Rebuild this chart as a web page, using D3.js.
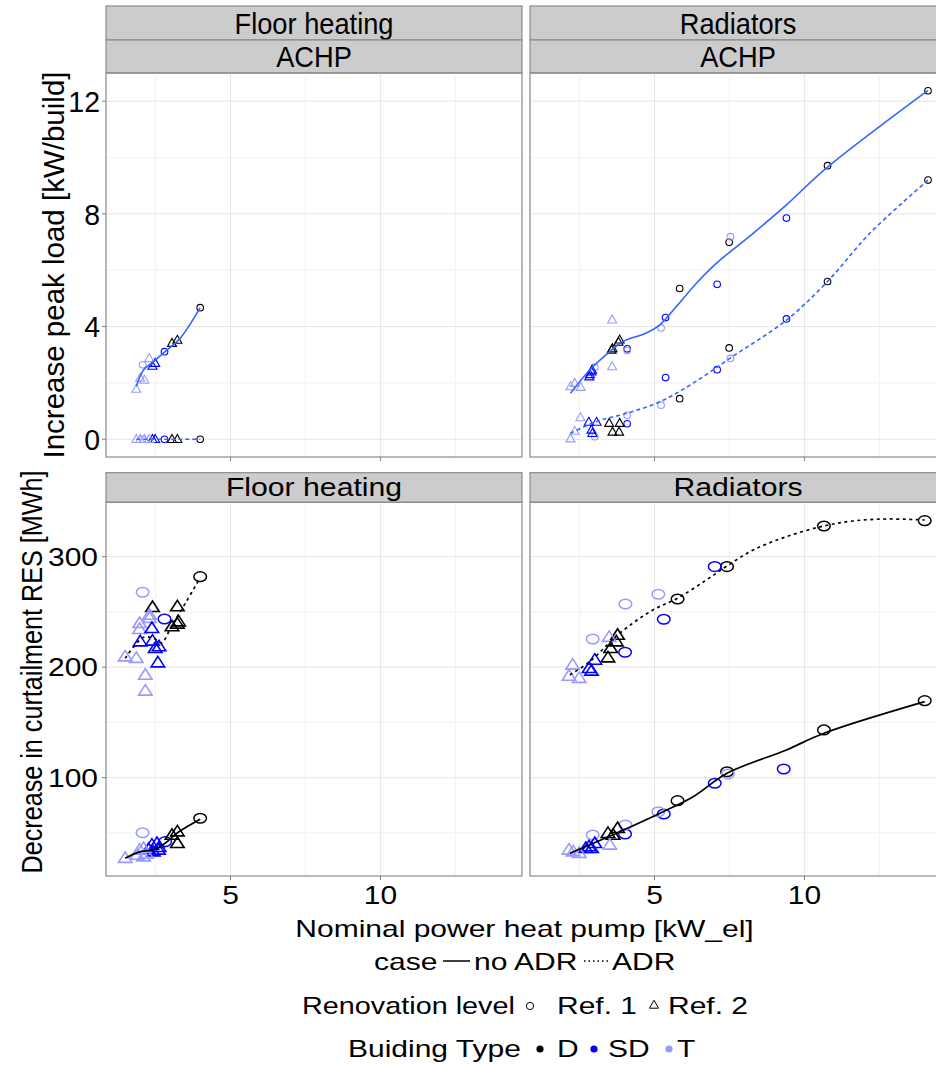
<!DOCTYPE html>
<html>
<head>
<meta charset="utf-8">
<script src="https://cdn.jsdelivr.net/npm/d3@7"></script>
<style>
  body { margin: 0; background: #fff; }
  svg { display: block; font-family: "Liberation Sans", Arial, Helvetica, sans-serif; }
</style>
</head>
<body>
<svg id="chart" width="936" height="1065"></svg>
<script>
// facet labels and axis ticks
const facets = ['Floor heating', 'Radiators'];
const pumpType = 'ACHP';
const xTicks = [5, 10];
const xMinor = [2.5, 7.5, 12.5];
const peakTicks = [0, 4, 8, 12];
const peakMinor = [2, 6, 10];
const curtTicks = [100, 200, 300];
const curtMinor = [50, 150, 250];

const typeColor = { D: '#000000', SD: '#0000FF', T: '#9999FF' };

// points: [nominal power, value, building type, renovation level (1 = circle, 2 = triangle)]
const peakFloorNoAdr = [
  [3.99, 4.67, 'D', 1], [3.05, 3.41, 'D', 2], [3.23, 3.52, 'D', 2],
  [2.80, 3.11, 'SD', 1], [2.40, 2.60, 'SD', 2], [2.49, 2.70, 'SD', 2],
  [2.07, 2.64, 'T', 1], [2.29, 2.87, 'T', 2], [1.99, 2.17, 'T', 2], [2.13, 2.10, 'T', 2], [1.86, 1.78, 'T', 2]
];
const peakFloorAdr = [
  [3.99, 0, 'D', 1], [3.05, 0, 'D', 2], [3.23, 0, 'D', 2],
  [2.80, 0, 'SD', 1], [2.40, 0, 'SD', 2], [2.49, 0, 'SD', 2],
  [2.07, 0, 'T', 1], [2.29, 0, 'T', 2], [1.99, 0, 'T', 2], [2.13, 0, 'T', 2], [1.86, 0, 'T', 2]
];
const peakRadNoAdr = [
  [14.12, 12.37, 'D', 1], [10.77, 9.71, 'D', 1], [7.49, 6.99, 'D', 1], [5.84, 5.35, 'D', 1],
  [9.40, 7.85, 'SD', 1], [7.09, 5.50, 'SD', 1], [5.37, 4.32, 'SD', 1], [4.09, 3.21, 'SD', 1],
  [7.53, 7.19, 'T', 1], [5.22, 3.95, 'T', 1], [4.09, 3.15, 'T', 1], [3.01, 2.56, 'T', 1],
  [3.84, 3.53, 'D', 2], [3.80, 3.45, 'D', 2], [3.57, 3.17, 'D', 2], [3.60, 3.22, 'D', 2],
  [2.92, 2.46, 'SD', 2], [2.83, 2.22, 'SD', 2], [2.90, 2.40, 'SD', 2], [2.85, 2.30, 'SD', 2],
  [3.59, 4.24, 'T', 2], [3.59, 2.58, 'T', 2], [2.20, 1.87, 'T', 2], [2.34, 1.99, 'T', 2], [2.54, 1.85, 'T', 2]
];
const peakRadAdr = [
  [14.12, 9.20, 'D', 1], [10.77, 5.60, 'D', 1], [7.49, 3.24, 'D', 1], [5.84, 1.44, 'D', 1],
  [9.40, 4.27, 'SD', 1], [7.09, 2.47, 'SD', 1], [5.37, 2.19, 'SD', 1], [4.09, 0.55, 'SD', 1],
  [7.53, 2.87, 'T', 1], [5.22, 1.21, 'T', 1], [4.09, 0.85, 'T', 1], [3.01, 0.09, 'T', 1],
  [3.49, 0.57, 'D', 2], [3.84, 0.57, 'D', 2], [3.60, 0.26, 'D', 2], [3.82, 0.26, 'D', 2],
  [2.81, 0.61, 'SD', 2], [3.07, 0.61, 'SD', 2], [2.90, 0.33, 'SD', 2], [2.93, 0.21, 'SD', 2],
  [2.53, 0.77, 'T', 2], [2.34, 0.29, 'T', 2], [2.20, 0.02, 'T', 2]
];
const curtFloorAdr = [
  [3.99, 281.9, 'D', 1], [2.07, 267.8, 'T', 1], [2.80, 243.6, 'SD', 1],
  [2.40, 254.2, 'D', 2], [3.23, 254.8, 'D', 2], [3.27, 241.2, 'D', 2], [3.23, 239.1, 'D', 2], [3.05, 236.7, 'D', 2],
  [2.30, 247.2, 'T', 2], [2.30, 244.3, 'T', 2], [1.97, 239.7, 'T', 2], [1.97, 234.3, 'T', 2],
  [1.49, 209.5, 'T', 2], [1.86, 208.1, 'T', 2], [2.16, 192.9, 'T', 2], [2.16, 178.5, 'T', 2],
  [2.38, 235.2, 'SD', 2], [1.99, 223.1, 'SD', 2], [2.40, 223.7, 'SD', 2], [2.49, 217.1, 'SD', 2],
  [2.62, 218.6, 'SD', 2], [2.58, 204.1, 'SD', 2]
];
const curtFloorNoAdr = [
  [3.99, 63.3, 'D', 1], [2.82, 42.1, 'SD', 1], [2.07, 50.2, 'T', 1],
  [3.23, 51.1, 'D', 2], [3.23, 40.6, 'D', 2], [3.05, 48.1, 'D', 2],
  [2.38, 39.1, 'SD', 2], [2.55, 40.6, 'SD', 2], [2.60, 34.6, 'SD', 2], [2.43, 33.0, 'SD', 2],
  [2.27, 35.2, 'SD', 2], [2.62, 37.0, 'SD', 2],
  [1.49, 27.1, 'T', 2], [2.10, 36.1, 'T', 2], [2.10, 28.5, 'T', 2], [1.88, 30.0, 'T', 2],
  [1.97, 34.6, 'T', 2], [2.20, 31.0, 'T', 2]
];
const curtRadAdr = [
  [14.01, 332.6, 'D', 1], [10.65, 327.8, 'D', 1], [7.42, 291.0, 'D', 1], [5.77, 261.7, 'D', 1],
  [7.01, 291.0, 'SD', 1], [5.31, 243.3, 'SD', 1], [4.02, 213.5, 'SD', 1],
  [5.13, 266.0, 'T', 1], [4.03, 257.2, 'T', 1], [2.94, 225.5, 'T', 1],
  [3.77, 229.1, 'D', 2], [3.73, 223.1, 'D', 2], [3.54, 217.1, 'D', 2], [3.45, 208.6, 'D', 2],
  [3.01, 206.5, 'SD', 2], [2.82, 199.0, 'SD', 2], [2.90, 196.6, 'SD', 2],
  [3.49, 227.1, 'T', 2], [2.27, 202.0, 'T', 2], [2.15, 192.0, 'T', 2], [2.49, 190.0, 'T', 2]
];
const curtRadNoAdr = [
  [14.01, 169.7, 'D', 1], [10.65, 143.2, 'D', 1], [7.42, 105.4, 'D', 1], [5.77, 79.2, 'D', 1],
  [9.31, 107.9, 'SD', 1], [7.01, 94.9, 'SD', 1], [5.31, 67.1, 'SD', 1], [4.02, 49.0, 'SD', 1],
  [7.45, 103.3, 'T', 1], [5.13, 69.2, 'T', 1], [4.03, 57.2, 'T', 1], [2.94, 48.1, 'T', 1],
  [3.77, 54.2, 'D', 2], [3.45, 49.7, 'D', 2], [3.62, 48.1, 'D', 2],
  [3.01, 40.6, 'SD', 2], [2.82, 37.6, 'SD', 2], [2.90, 36.1, 'SD', 2], [2.71, 36.1, 'SD', 2],
  [3.51, 39.1, 'T', 2], [2.15, 34.6, 'T', 2], [2.29, 33.0, 'T', 2], [2.49, 31.6, 'T', 2]
];

// smoothed fits
const peakFloorNoAdrFit = [[1.86, 1.87], [2.10, 2.46], [2.43, 2.75], [2.82, 3.11], [3.32, 3.58], [3.99, 4.67]];
const peakFloorAdrFit = [[1.86, 0], [3.99, 0]];
const peakRadNoAdrFit = [[2.20, 1.63], [2.84, 2.46], [3.51, 3.11], [3.95, 3.47], [4.73, 3.77], [5.18, 4.06],
  [5.73, 4.71], [6.40, 5.54], [7.07, 6.25], [8.29, 7.31], [9.40, 8.32], [10.73, 9.62], [14.12, 12.38]];
const peakRadAdrFit = [[2.20, 0.21], [3.07, 0.63], [4.07, 0.92], [5.18, 1.33], [6.29, 1.99], [7.51, 2.87],
  [9.40, 4.23], [10.77, 5.60], [12.18, 7.31], [14.12, 9.20]];
const curtFloorAdrFit = [[1.49, 208], [2.10, 227], [2.45, 226], [2.70, 222], [3.05, 238], [3.50, 258], [3.99, 281]];
const curtFloorNoAdrFit = [[1.49, 27.1], [1.99, 33], [2.43, 34.6], [2.82, 40.6], [3.21, 49.7], [3.99, 62.3]];
const curtRadAdrFit = [[2.18, 193], [2.84, 205], [3.84, 230.7], [4.95, 251.8], [5.77, 262.4], [6.73, 278.9],
  [7.42, 291.6], [8.29, 306], [9.40, 318.1], [10.65, 327.8], [11.62, 332.3], [12.73, 334.1], [14.01, 333.2]];
const curtRadNoAdrFit = [[2.18, 31.6], [3.84, 51.1], [5.29, 69.2], [6.29, 82.8], [7.42, 104], [9.40, 125.1],
  [10.65, 140.2], [14.01, 168.8]];

const svg = d3.select('#chart');
const cols = [[106, 522], [530, 946]];
const xDomain = [0.85, 14.72];

const rows = {
  top: { y0: 73, y1: 457, domain: [-0.63, 13.0], major: peakTicks, minor: peakMinor,
         lineColor: '#3366FF', big: false },
  bottom: { y0: 502.3, y1: 876, domain: [11, 349.2], major: curtTicks, minor: curtMinor,
         lineColor: '#000000', big: true }
};

function txt(g, x, y, s, size, sx, anchor, rot) {
  return g.append('text')
    .attr('transform', `translate(${x},${y})` + (rot ? ` rotate(${rot})` : '') + ` scale(${sx},1)`)
    .attr('text-anchor', anchor || 'middle')
    .attr('font-size', size)
    .attr('fill', '#000')
    .text(s);
}

function tri(w, h) {
  return `M0,${-h * 0.6}L${w / 2},${h * 0.4}L${-w / 2},${h * 0.4}Z`;
}

const line = d3.line().curve(d3.curveCatmullRom.alpha(0.5));

function drawPanel(row, ci, series, fits, id) {
  const r = rows[row];
  const [x0, x1] = cols[ci];
  const x = d3.scaleLinear().domain(xDomain).range([x0, x1]);
  const y = d3.scaleLinear().domain(r.domain).range([r.y1, r.y0]);
  const g = svg.append('g');

  svg.append('clipPath').attr('id', id).append('rect')
    .attr('x', x0).attr('y', r.y0).attr('width', x1 - x0).attr('height', r.y1 - r.y0);

  // grid
  g.selectAll('.hmin').data(r.minor).join('line')
    .attr('x1', x0).attr('x2', x1).attr('y1', d => y(d)).attr('y2', d => y(d))
    .attr('stroke', '#F3F3F3').attr('stroke-width', 1.2);
  g.selectAll('.vmin').data(xMinor).join('line')
    .attr('y1', r.y0).attr('y2', r.y1).attr('x1', d => x(d)).attr('x2', d => x(d))
    .attr('stroke', '#F3F3F3').attr('stroke-width', 1.2);
  g.selectAll('.hmaj').data(r.major).join('line')
    .attr('x1', x0).attr('x2', x1).attr('y1', d => y(d)).attr('y2', d => y(d))
    .attr('stroke', '#E5E5E5').attr('stroke-width', 1);
  g.selectAll('.vmaj').data(xTicks).join('line')
    .attr('y1', r.y0).attr('y2', r.y1).attr('x1', d => x(d)).attr('x2', d => x(d))
    .attr('stroke', '#E5E5E5').attr('stroke-width', 1);

  const pg = g.append('g').attr('clip-path', `url(#${id})`);
  series.forEach(pts => {
    pts.forEach(p => {
      const c = typeColor[p[2]];
      if (p[3] === 1) {
        pg.append('ellipse')
          .attr('cx', x(p[0])).attr('cy', y(p[1]))
          .attr('rx', r.big ? 6.3 : 3.3).attr('ry', r.big ? 4.8 : 3.3)
          .attr('fill', 'none').attr('stroke', c).attr('stroke-width', r.big ? 1.5 : 1.1);
      } else {
        pg.append('path')
          .attr('d', r.big ? tri(13.5, 10.5) : tri(9, 8))
          .attr('transform', `translate(${x(p[0])},${y(p[1])})`)
          .attr('fill', 'none').attr('stroke', c).attr('stroke-width', r.big ? 1.6 : 1.1);
      }
    });
  });

  fits.forEach(([pts, adr]) => {
    pg.append('path')
      .attr('d', line(pts.map(p => [x(p[0]), y(p[1])])))
      .attr('fill', 'none')
      .attr('stroke', r.lineColor)
      .attr('stroke-width', r.big ? 1.7 : 1.6)
      .attr('stroke-dasharray', adr ? (r.big ? '3,3.5' : '4,3') : null);
  });

  g.append('rect').attr('x', x0).attr('y', r.y0).attr('width', x1 - x0).attr('height', r.y1 - r.y0)
    .attr('fill', 'none').attr('stroke', '#8A8A8A').attr('stroke-width', 1.2);

  // x tick marks
  g.selectAll('.xt').data(xTicks).join('line')
    .attr('x1', d => x(d)).attr('x2', d => x(d)).attr('y1', r.y1).attr('y2', r.y1 + 4)
    .attr('stroke', '#7F7F7F').attr('stroke-width', 1);

  if (ci === 0) {
    g.selectAll('.yt').data(r.major).join('line')
      .attr('x1', x0 - 4).attr('x2', x0).attr('y1', d => y(d)).attr('y2', d => y(d))
      .attr('stroke', '#7F7F7F').attr('stroke-width', 1);
    r.major.forEach(v => {
      if (row === 'top') txt(g, 100, y(v) + 10.8, v, 30, 0.95, 'end');
      else txt(g, 98, y(v) + 9.2, v, 25.6, 1.17, 'end');
    });
  }
  if (row === 'bottom') {
    xTicks.forEach(v => txt(g, x(v), 903.5, v, 25.6, 1.17, 'middle'));
  }
  return { x, y };
}

function strip(x0, x1, y0, y1, label, size, sx, base) {
  svg.append('rect').attr('x', x0).attr('y', y0).attr('width', x1 - x0).attr('height', y1 - y0)
    .attr('fill', '#CCCCCC').attr('stroke', '#8A8A8A').attr('stroke-width', 1.2);
  txt(svg, (x0 + x1) / 2, base, label, size, sx, 'middle');
}

// top row: peak load
facets.forEach((f, i) => {
  strip(cols[i][0], cols[i][1], 6, 40, f, 29.3, 0.93, 34.3);
  strip(cols[i][0], cols[i][1], 40, 73, pumpType, 29.3, 0.93, 66.7);
});
drawPanel('top', 0, [peakFloorNoAdr, peakFloorAdr], [[peakFloorNoAdrFit, false], [peakFloorAdrFit, true]], 'c1');
drawPanel('top', 1, [peakRadNoAdr, peakRadAdr], [[peakRadNoAdrFit, false], [peakRadAdrFit, true]], 'c2');

// bottom row: curtailment
facets.forEach((f, i) => strip(cols[i][0], cols[i][1], 472.7, 502.3, f, 25.6, 1.18, 496));
drawPanel('bottom', 0, [curtFloorNoAdr, curtFloorAdr], [[curtFloorNoAdrFit, false], [curtFloorAdrFit, true]], 'c3');
drawPanel('bottom', 1, [curtRadNoAdr, curtRadAdr], [[curtRadNoAdrFit, false], [curtRadAdrFit, true]], 'c4');

// axis titles
txt(svg, 63.8, 265, 'Increase peak load [kW/build]', 29.5, 1, 'middle', -90);
txt(svg, 42, 672, 'Decrease in curtailment RES [MWh]', 30, 0.84, 'middle', -90);
txt(svg, 524.5, 937, 'Nominal power heat pump [kW_el]', 24, 1.25, 'middle');

// legends
const lg = svg.append('g');
const LS = 24, LX = 1.25;
txt(lg, 374, 970, 'case', LS, LX, 'start');
lg.append('line').attr('x1', 443).attr('x2', 470).attr('y1', 961).attr('y2', 961)
  .attr('stroke', '#000').attr('stroke-width', 1.5);
txt(lg, 474, 970, 'no ADR', LS, LX, 'start');
lg.append('line').attr('x1', 584).attr('x2', 609).attr('y1', 961).attr('y2', 961)
  .attr('stroke', '#000').attr('stroke-width', 1.5).attr('stroke-dasharray', '1.5,3');
txt(lg, 612, 970, 'ADR', LS, LX, 'start');

txt(lg, 302, 1014, 'Renovation level', LS, 1.2, 'start');
lg.append('circle').attr('cx', 530).attr('cy', 1006).attr('r', 3.6)
  .attr('fill', 'none').attr('stroke', '#000').attr('stroke-width', 1);
txt(lg, 557, 1014, 'Ref. 1', LS, LX, 'start');
lg.append('path').attr('d', tri(9, 8)).attr('transform', 'translate(654,1005)')
  .attr('fill', 'none').attr('stroke', '#000').attr('stroke-width', 1);
txt(lg, 668, 1014, 'Ref. 2', LS, LX, 'start');

txt(lg, 348, 1057, 'Buiding Type', LS, LX, 'start');
const typeKeys = [['D', 540, 557], ['SD', 594, 608], ['T', 669, 677]];
typeKeys.forEach(([t, cx, tx]) => {
  lg.append('circle').attr('cx', cx).attr('cy', 1049).attr('r', 3.6).attr('fill', typeColor[t]);
  txt(lg, tx, 1057, t, LS, LX, 'start');
});
</script>
</body>
</html>
